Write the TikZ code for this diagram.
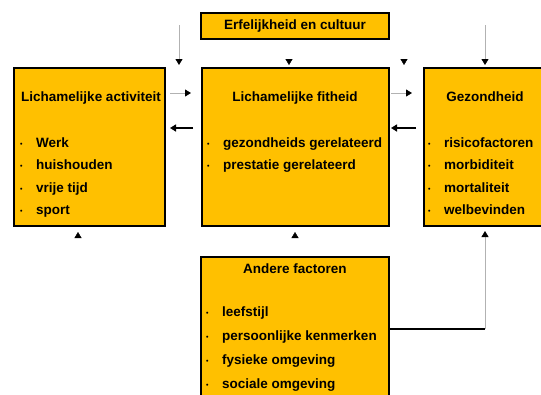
\documentclass[tikz,border=0pt]{standalone}
\usepackage{fontspec}
\setmainfont{Liberation Sans}
\usetikzlibrary{arrows.meta}
\definecolor{oranje}{HTML}{FFC000}
\newcommand\bol{\makebox[16pt][l]{\raisebox{1pt}{\fontsize{7}{7}\selectfont\textbullet}}}
\begin{document}
\begin{tikzpicture}[x=1pt,y=-1pt,>={Triangle[length=6pt,width=7pt,color=black]},
  font=\bfseries\fontsize{13.5}{16}\selectfont,
  blok/.style={draw,fill=oranje,line width=1.6pt,inner sep=0pt},
  titel/.style={anchor=base,inner sep=0pt},
  punt/.style={anchor=base west,inner sep=0pt},
  grijs/.style={->,gray!60,line width=.8pt},
  zwart/.style={->,line width=2.4pt},
  kort/.style={->,white,line width=.4pt}]
\clip (0,0) rectangle (541,394);
% blokken
\node[blok,minimum width=188pt,minimum height=26pt] (erf) at (295,26) {Erfelijkheid en cultuur};
\node[blok,minimum width=151pt,minimum height=158pt] (act) at (89.5,147) {};
\node[blok,minimum width=187pt,minimum height=158pt] (fit) at (295.5,147) {};
\node[blok,minimum width=140pt,minimum height=158pt] (gez) at (494,147) {};
\node[blok,minimum width=188pt,minimum height=150pt] (ander) at (295,332) {};
% koppen
\node[titel] (act-t) at (91,101) {Lichamelijke activiteit};
\node[titel] (fit-t) at (295,101) {Lichamelijke fitheid};
\node[titel] (gez-t) at (485,101) {Gezondheid};
\node[titel] (ander-t) at (295,273) {Andere factoren};
% lijsten
\foreach \t [count=\i] in {Werk,huishouden,vrije tijd,sport}
  \node[punt] (act-\i) at (20,{124.5+22.5*\i}) {\bol\t};
\foreach \t [count=\i] in {gezondheids gerelateerd,prestatie gerelateerd}
  \node[punt] (fit-\i) at (207,{124.5+22.5*\i}) {\bol\t};
\foreach \t [count=\i] in {risicofactoren,morbiditeit,mortaliteit,welbevinden}
  \node[punt] (gez-\i) at (428,{124.5+22.5*\i}) {\bol\t};
\foreach \t [count=\i] in {leefstijl,persoonlijke kenmerken,fysieke omgeving,sociale omgeving}
  \node[punt] (ander-\i) at (206,{292.5+24*\i}) {\bol\t};
% pijlen boven
\coordinate (b1) at (179,25); \coordinate (b1e) at (179,65);
\coordinate (b2) at (485,25); \coordinate (b2e) at (485,65);
\draw[grijs] (b1)--(b1e);
\draw[grijs] (b2)--(b2e);
\coordinate (k1) at (289,58); \coordinate (k1e) at (289,65);
\coordinate (k2) at (404,58); \coordinate (k2e) at (404,65);
\draw[kort] (k1)--(k1e);
\draw[kort] (k2)--(k2e);
% pijlen onder
\coordinate (o1) at (78,240); \coordinate (o1e) at (78,232);
\coordinate (o2) at (295,240); \coordinate (o2e) at (295,232);
\draw[kort] (o1)--(o1e);
\draw[kort] (o2)--(o2e);
% tussen de blokken
\coordinate (h1) at (170,93); \coordinate (h1e) at (191,93);
\coordinate (h2) at (193,128); \coordinate (h2e) at (170,128);
\coordinate (h3) at (391,93); \coordinate (h3e) at (412,93);
\coordinate (h4) at (416,128); \coordinate (h4e) at (391,128);
\draw[grijs] (h1)--(h1e);
\draw[zwart] (h2)--(h2e);
\draw[grijs] (h3)--(h3e);
\draw[zwart] (h4)--(h4e);
% andere factoren naar gezondheid
\coordinate (r1) at (485,329); \coordinate (r2) at (485,231);
\draw[line width=1.4pt] (ander.east |- r1)--(r1);
\draw[grijs] (r1)--(r2);
\end{tikzpicture}
\end{document}
